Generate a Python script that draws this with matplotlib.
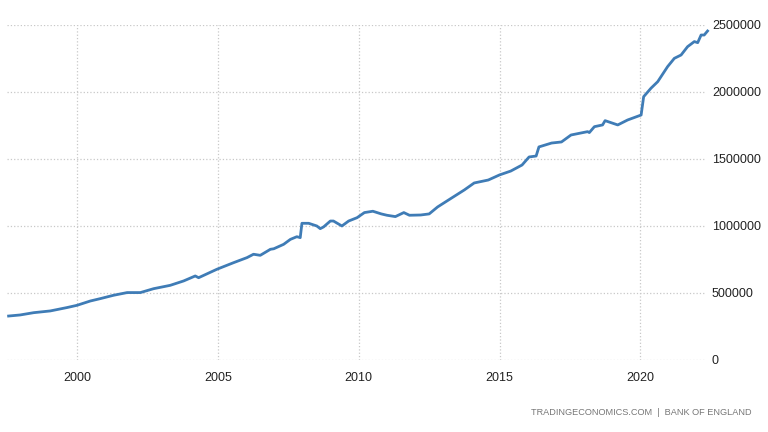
import matplotlib.pyplot as plt

# =============================================
# DATA
# =============================================
years = [1997.56, 1997.97, 1998.45, 1999.04, 1999.63, 1999.99, 2000.46, 2000.82,
         2001.29, 2001.77, 2002.24, 2002.71, 2003.30, 2003.78, 2004.19, 2004.31,
         2004.96, 2005.55, 2006.03, 2006.26, 2006.50, 2006.86, 2006.98, 2007.33,
         2007.57, 2007.80, 2007.92, 2007.98, 2008.22, 2008.51, 2008.63, 2008.75,
         2008.99, 2009.10, 2009.40, 2009.64, 2009.94, 2010.20, 2010.50, 2010.80,
         2011.00, 2011.30, 2011.60, 2011.80, 2012.20, 2012.50, 2012.80, 2013.30,
         2013.75, 2014.10, 2014.60, 2015.00, 2015.40, 2015.80, 2016.05, 2016.30,
         2016.40, 2016.85, 2017.20, 2017.54, 2018.13, 2018.19, 2018.37, 2018.66,
         2018.75, 2019.20, 2019.55, 2020.03, 2020.12, 2020.38, 2020.62, 2020.97,
         2021.21, 2021.45, 2021.68, 2021.92, 2022.04, 2022.16, 2022.27, 2022.39]
values = [328000, 336000, 353000, 366000, 391000, 408000, 440000, 458000,
          483000, 503000, 503000, 532000, 557000, 590000, 627000, 614000,
          677000, 726000, 764000, 789000, 781000, 826000, 830000, 863000,
          900000, 920000, 913000, 1020000, 1020000, 1000000, 980000, 993000,
          1037000, 1037000, 1000000, 1037000, 1062000, 1100000, 1110000, 1090000,
          1080000, 1070000, 1100000, 1080000, 1082000, 1090000, 1142000, 1209000,
          1269000, 1321000, 1343000, 1381000, 1410000, 1455000, 1515000, 1522000,
          1590000, 1619000, 1627000, 1679000, 1704000, 1697000, 1741000, 1754000,
          1786000, 1754000, 1791000, 1828000, 1965000, 2028000, 2077000, 2189000,
          2251000, 2276000, 2338000, 2376000, 2368000, 2425000, 2425000, 2455000]

x_ticks = [2000, 2005, 2010, 2015, 2020]
y_ticks = [0, 500000, 1000000, 1500000, 2000000, 2500000]

plt.rcParams['font.family'] = ['Liberation Sans', 'DejaVu Sans']

fig = plt.figure(figsize=(7.68, 4.32), dpi=100)
ax = fig.add_axes([0.009, 0.1667, 0.909, 0.7755])

# garis data (boleh lepas sedikit dari kawasan paksi macam asal)
ax.plot(years, values, color='#3f7cb6', lw=2.0, solid_joinstyle='round',
        clip_on=False)

ax.set_xlim(1997.5, 2022.3)
ax.set_ylim(0, 2500000)
ax.set_xticks(x_ticks)
ax.set_xticklabels([str(y) for y in x_ticks])
ax.set_yticks(y_ticks)
ax.set_yticklabels([str(v) for v in y_ticks])

ax.yaxis.tick_right()
ax.tick_params(axis='both', length=0, labelsize=9, colors='#222222')
ax.tick_params(axis='x', pad=9)
ax.tick_params(axis='y', pad=5)

ax.grid(True, linestyle=':', color='#c8c8c8', lw=0.9)
for s in ax.spines.values():
    s.set_visible(False)

fig.text(0.979, 0.044, "TRADINGECONOMICS.COM  |  BANK OF ENGLAND",
         ha='right', va='center', fontsize=6.6, color='#777777')

fig.savefig('out.png', dpi=100)
